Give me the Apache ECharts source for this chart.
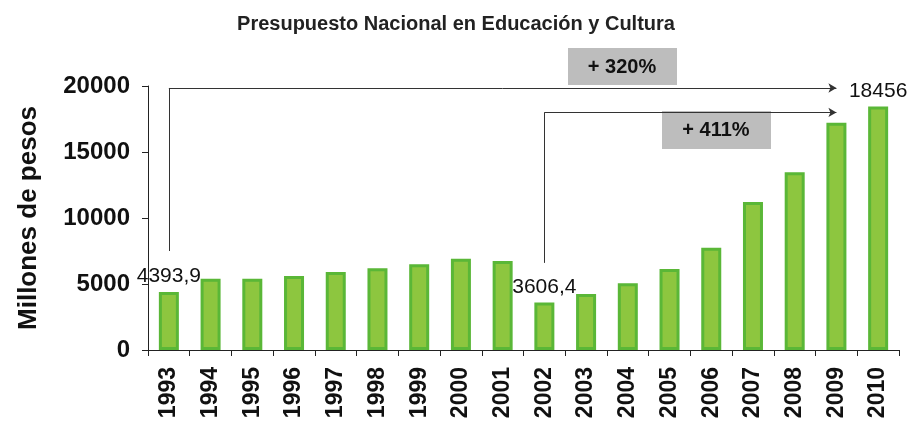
<!DOCTYPE html>
<html>
<head>
<meta charset="utf-8">
<script src="https://cdn.jsdelivr.net/npm/echarts@6/dist/echarts.min.js"></script>
<style>
  html, body { margin: 0; padding: 0; background: #fff; }
  #main { width: 912px; height: 430px; }
</style>
</head>
<body>
<div id="main"></div>
<script>
// datos
var years = ['1993', '1994', '1995', '1996', '1997', '1998', '1999', '2000', '2001',
             '2002', '2003', '2004', '2005', '2006', '2007', '2008', '2009', '2010'];
var presupuesto = [4393.9, 5400, 5400, 5600, 5900, 6190, 6490, 6920, 6740,
                   3606.4, 4240, 5050, 6140, 7750, 11210, 13460, 17220, 18456];
var etiquetas = { 0: '4393,9', 9: '3606,4', 17: '18456' };
var yTicks = [0, 5000, 10000, 15000, 20000];

var myChart = echarts.init(document.getElementById('main'));

var barData = presupuesto.map(function (v, i) {
    if (etiquetas[i]) {
        return { value: v, label: { show: true, formatter: etiquetas[i] } };
    }
    return v;
});

var option = {
    animation: false,
    title: {
        text: 'Presupuesto Nacional en Educación y Cultura',
        left: 'center',
        top: 9,
        textStyle: { fontSize: 20, fontWeight: 'bold', color: '#222', fontFamily: 'Liberation Sans' }
    },
    grid: { left: 148, right: 13, top: 86, bottom: 80 },
    xAxis: {
        type: 'category',
        data: years,
        axisLine: { lineStyle: { color: '#222', width: 1 } },
        axisTick: { show: true, length: 6, lineStyle: { color: '#222' } },
        axisLabel: {
            rotate: 90, margin: 17, fontSize: 23, fontWeight: 'bold',
            color: '#111', fontFamily: 'Liberation Sans'
        }
    },
    yAxis: {
        type: 'value',
        min: yTicks[0],
        max: yTicks[yTicks.length - 1],
        interval: 5000,
        name: 'Millones de pesos',
        nameLocation: 'middle',
        nameGap: 106,
        nameTextStyle: { fontSize: 26, fontWeight: 'bold', color: '#111', fontFamily: 'Liberation Sans' },
        axisLine: { show: true, lineStyle: { color: '#222', width: 1 } },
        axisTick: { show: true, length: 6, lineStyle: { color: '#222' } },
        splitLine: { show: false },
        axisLabel: {
            fontSize: 24, fontWeight: 'bold', color: '#111', margin: 18, fontFamily: 'Liberation Sans',
            formatter: function (v) { return String(v); }
        }
    },
    series: [{
        type: 'bar',
        data: barData,
        barWidth: 20,
        itemStyle: { color: '#8dc63f', borderColor: '#5ab737', borderWidth: 3 },
        label: {
            show: false, position: 'top', distance: 5,
            fontSize: 21, color: '#111', fontFamily: 'Liberation Sans'
        },
        markLine: {
            silent: true,
            symbol: ['none', 'arrow'],
            symbolSize: [7, 8],
            label: { show: false },
            lineStyle: { color: '#333', width: 1, type: 'solid' },
            data: [
                [{ coord: ['1993', 7500], symbol: 'none' }, { coord: ['1993', 19850], symbol: 'none' }],
                [{ coord: ['1993', 19850], symbol: 'none' }, { coord: ['2009', 19850] }],
                [{ coord: ['2002', 6600], symbol: 'none' }, { coord: ['2002', 18000], symbol: 'none' }],
                [{ coord: ['2002', 18000], symbol: 'none' }, { coord: ['2009', 18000] }]
            ]
        }
    }],
    graphic: [
        {
            type: 'group', left: 568, top: 48,
            children: [
                { type: 'rect', shape: { width: 109, height: 37 }, style: { fill: '#bdbdbd' } },
                { type: 'text', x: 54, y: 19, style: { text: '+ 320%', font: 'bold 20px "Liberation Sans"', fill: '#111', align: 'center', verticalAlign: 'middle' } }
            ]
        },
        {
            type: 'group', left: 662, top: 111,
            children: [
                { type: 'rect', shape: { width: 109, height: 38 }, style: { fill: '#bdbdbd' } },
                { type: 'text', x: 54, y: 19, style: { text: '+ 411%', font: 'bold 20px "Liberation Sans"', fill: '#111', align: 'center', verticalAlign: 'middle' } }
            ]
        }
    ]
};

myChart.setOption(option);
</script>
</body>
</html>
